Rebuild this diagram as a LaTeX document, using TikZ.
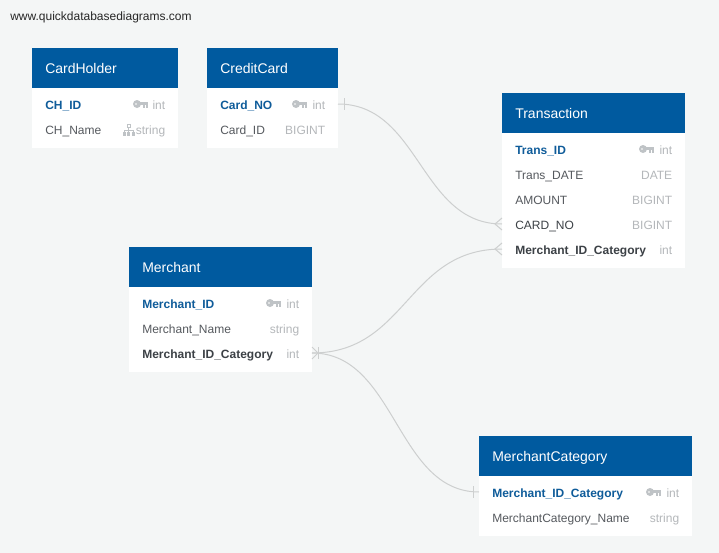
\documentclass[tikz,border=0pt]{standalone}
\usepackage{fontspec}
\setmainfont{Liberation Sans}
\definecolor{pagebg}{HTML}{F4F6F6}
\definecolor{headblue}{HTML}{005A9F}
\definecolor{pkblue}{HTML}{0F5C9A}
\definecolor{darktext}{HTML}{3C4146}
\definecolor{plaintext}{HTML}{55595E}
\definecolor{typegrey}{HTML}{B4B7BA}
\definecolor{iconcol}{HTML}{BFC3C6}
\definecolor{linkgrey}{HTML}{CDCFCF}
\tikzset{
  x=0.75pt,y=-0.75pt,
  tablebody/.style={fill=white,draw=none,rectangle,inner sep=0,outer sep=0,anchor=north west},
  tablehead/.style={fill=headblue,draw=none,rectangle,inner sep=0,outer sep=0,anchor=north west,minimum height=30pt},
  headtext/.style={text=white,font=\fontsize{10.5}{12}\selectfont,anchor=mid west,inner sep=0},
  rowtext/.style={font=\fontsize{9}{11}\selectfont,anchor=mid west,inner sep=0},
  pk/.style={rowtext,text=pkblue,font=\fontsize{9}{11}\selectfont\bfseries},
  fkname/.style={rowtext,text=darktext,font=\fontsize{9}{11}\selectfont\bfseries},
  plainname/.style={rowtext,text=plaintext},
  typetext/.style={font=\fontsize{9}{11}\selectfont,anchor=mid east,inner sep=0,text=typegrey},
  link/.style={draw=linkgrey,line width=0.75pt},
  endmark/.style={draw=linkgrey,line width=0.75pt},
}
\newcommand{\erbox}[6]{% name, x1, x2, ytop, title, body height px
  \node[tablebody,minimum width={(#3-#2)*0.75pt},minimum height={#6*0.75pt}] (#1body) at (#2,#4+40) {};
  \node[tablehead,minimum width={(#3-#2)*0.75pt}] (#1head) at (#2,#4) {};
  \node[headtext] (#1title) at (#2+13,#4+21.8) {#5};
}
\newcommand{\errow}[7]{% id, x1, x2, y, style, label, type
  \coordinate (#1L) at (#2,#4);
  \coordinate (#1R) at (#3,#4);
  \node[#5] (#1name) at (#2+13,#4+1.5) {#6};
  \node[typetext] (#1type) at (#3-12.5,#4+1.5) {#7};
}
\newcommand{\keyicon}[2]{% right end x, y
  \fill[iconcol,even odd rule] (#1-11,#2) circle[radius=3pt] (#1-12,#2) circle[radius=0.8pt];
  \fill[iconcol] (#1-8,#2-1.7) rectangle (#1,#2+1.3);
  \fill[iconcol] (#1-5,#2+1) rectangle (#1-3,#2+3.5);
  \fill[iconcol] (#1-2,#2+1) rectangle (#1,#2+3.5);
}
\newcommand{\treeicon}[2]{% left x, centre y
  \begin{scope}[line width=0.6pt]
    \draw[iconcol] (#1+4,#2-5.5) rectangle (#1+7.5,#2-2.5);
    \draw[iconcol] (#1+5.75,#2-2.5) -- (#1+5.75,#2+2);
    \draw[iconcol] (#1+1.5,#2+2) -- (#1+1.5,#2) -- (#1+10,#2) -- (#1+10,#2+2);
    \fill[iconcol] (#1,#2+2) rectangle (#1+3,#2+5.5);
    \fill[iconcol] (#1+4.25,#2+2) rectangle (#1+7.25,#2+5.5);
    \fill[iconcol] (#1+8.5,#2+2) rectangle (#1+11.5,#2+5.5);
  \end{scope}
}
\begin{document}
\begin{tikzpicture}
\path[use as bounding box,fill=pagebg] (0,0) rectangle (719,553);

\node[font=\fontsize{9}{11}\selectfont,text=black!85,anchor=mid west,inner sep=0] (wm) at (10,16.5) {www.quickdatabasediagrams.com};

\erbox{holder}{32}{178}{48}{CardHolder}{60}
\errow{hId}{32}{178}{104}{pk}{CH\_ID}{int}
\keyicon{148}{104}
\errow{hName}{32}{178}{129}{plainname}{CH\_Name}{string}
\treeicon{123}{130}

\erbox{card}{207}{338}{48}{CreditCard}{60}
\errow{cNo}{207}{338}{104}{pk}{Card\_NO}{int}
\keyicon{307}{104}
\errow{cId}{207}{338}{129}{plainname}{Card\_ID}{BIGINT}

\erbox{trans}{502}{685}{93}{Transaction}{135}
\errow{tId}{502}{685}{149}{pk}{Trans\_ID}{int}
\keyicon{654}{149}
\errow{tDate}{502}{685}{174}{plainname}{Trans\_DATE}{DATE}
\errow{tAmt}{502}{685}{199}{plainname}{AMOUNT}{BIGINT}
\errow{tCard}{502}{685}{224}{fkname,font=\fontsize{9}{11}\selectfont}{CARD\_NO}{BIGINT}
\errow{tMer}{502}{685}{249}{fkname}{Merchant\_ID\_Category}{int}

\erbox{merch}{129}{312}{247}{Merchant}{85}
\errow{mId}{129}{312}{303}{pk}{Merchant\_ID}{int}
\keyicon{281}{303}
\errow{mName}{129}{312}{328}{plainname}{Merchant\_Name}{string}
\errow{mCat}{129}{312}{353}{fkname}{Merchant\_ID\_Category}{int}

\erbox{cat}{479}{692}{436}{MerchantCategory}{60}
\errow{kId}{479}{692}{492}{pk}{Merchant\_ID\_Category}{int}
\keyicon{661}{492}
\errow{kName}{479}{692}{517}{plainname}{MerchantCategory\_Name}{string}

% connectors
\draw[link] (cNoR) .. controls (420,104) and (420,224) .. (tCardL);
\draw[link] (mCatR) .. controls (407,353) and (407,249) .. (tMerL);
\draw[link] (mCatR) .. controls (396,353) and (396,492) .. (kIdL);

% line-end markers
\draw[endmark] (344,98) -- (344,110);
\draw[endmark] (502,218) -- (495,224) -- (502,230);
\draw[endmark] (502,243) -- (495,249) -- (502,255);
\draw[endmark] (312,347) -- (318,353) -- (312,359);
\draw[endmark] (318,347) -- (318,359);
\draw[endmark] (473,486) -- (473,498);
\end{tikzpicture}
\end{document}
